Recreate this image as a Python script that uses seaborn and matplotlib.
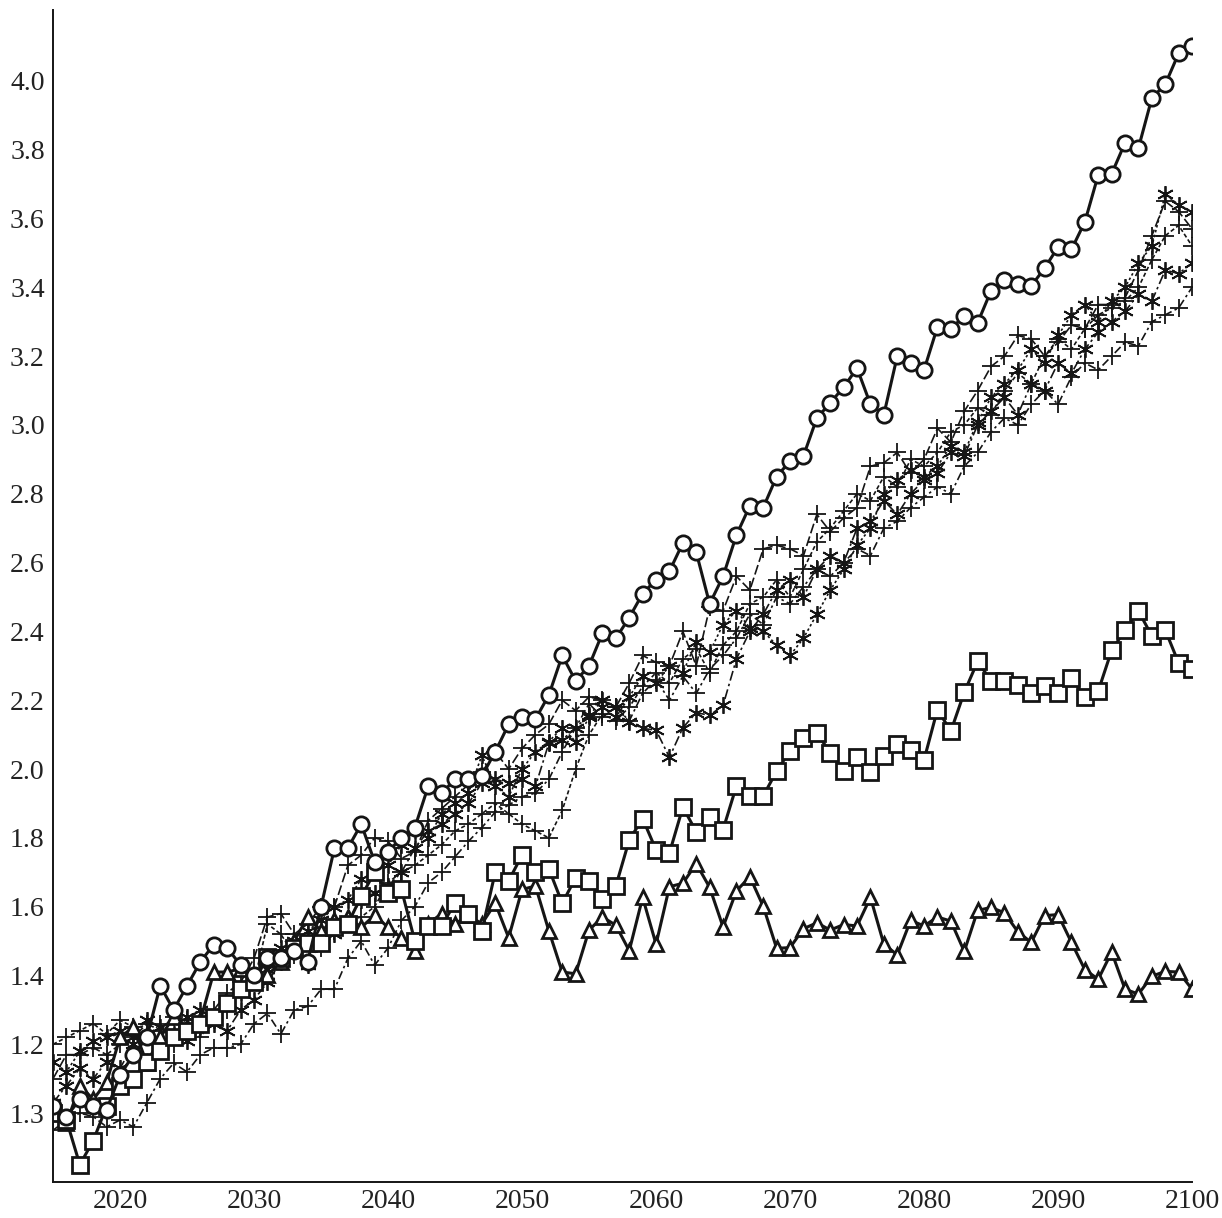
import numpy as np
import pandas as pd
import matplotlib
matplotlib.use("Agg")
import matplotlib.pyplot as plt
import seaborn as sns

years = list(range(2015, 2101))

circles = [1.02, 0.99, 1.04, 1.02, 1.01, 1.11, 1.17, 1.22, 1.37, 1.30,
           1.37, 1.44, 1.49, 1.48, 1.43, 1.40, 1.45, 1.45, 1.47, 1.44,
           1.60, 1.77, 1.77, 1.84, 1.73, 1.76, 1.80, 1.83, 1.95, 1.93,
           1.97, 1.97, 1.98, 2.05, 2.13, 2.15, 2.145, 2.215, 2.33, 2.256,
           2.30, 2.395, 2.38, 2.44, 2.51, 2.55, 2.575, 2.657, 2.63, 2.48,
           2.56, 2.68, 2.765, 2.76, 2.85, 2.895, 2.91, 3.02, 3.064, 3.11,
           3.165, 3.06, 3.03, 3.20, 3.18, 3.16, 3.285, 3.28, 3.316, 3.297,
           3.39, 3.42, 3.41, 3.404, 3.456, 3.517, 3.51, 3.59, 3.727, 3.73,
           3.82, 3.805, 3.95, 3.99, 4.08, 4.10]

squares = [1.00, 0.98, 0.85, 0.92, 1.02, 1.08, 1.10, 1.15, 1.18, 1.22,
           1.24, 1.26, 1.28, 1.32, 1.36, 1.38, 1.455, 1.45, 1.48, 1.494,
           1.494, 1.54, 1.55, 1.63, 1.70, 1.64, 1.65, 1.50, 1.545, 1.545,
           1.61, 1.58, 1.53, 1.70, 1.675, 1.75, 1.70, 1.71, 1.61, 1.684,
           1.675, 1.622, 1.66, 1.794, 1.856, 1.765, 1.756, 1.889, 1.818, 1.86,
           1.824, 1.951, 1.922, 1.922, 1.994, 2.053, 2.089, 2.104, 2.048, 1.994,
           2.034, 1.99, 2.037, 2.072, 2.056, 2.027, 2.173, 2.11, 2.223, 2.313,
           2.256, 2.256, 2.244, 2.221, 2.242, 2.221, 2.266, 2.208, 2.227, 2.345,
           2.404, 2.459, 2.387, 2.404, 2.308, 2.29]

triangles = [1.02, 0.97, 1.08, 1.04, 1.09, 1.22, 1.25, 1.145, 1.22, 1.28,
             1.25, 1.27, 1.41, 1.41, 1.42, 1.38, 1.40, 1.44, 1.50, 1.57,
             1.53, 1.56, 1.57, 1.54, 1.575, 1.54, 1.51, 1.47, 1.55, 1.58,
             1.55, 1.575, 1.55, 1.61, 1.51, 1.65, 1.66, 1.53, 1.41, 1.405,
             1.532, 1.57, 1.546, 1.472, 1.627, 1.491, 1.658, 1.668, 1.725, 1.656,
             1.541, 1.646, 1.687, 1.601, 1.479, 1.481, 1.536, 1.553, 1.532, 1.548,
             1.544, 1.627, 1.491, 1.46, 1.56, 1.544, 1.57, 1.558, 1.47, 1.589,
             1.598, 1.582, 1.527, 1.496, 1.574, 1.577, 1.496, 1.417, 1.389, 1.468,
             1.36, 1.346, 1.398, 1.412, 1.41, 1.36]

cross_a = [1.10, 1.17, 1.17, 1.19, 1.17, 1.20, 1.22, 1.26, 1.24, 1.28,
           1.27, 1.27, 1.30, 1.35, 1.38, 1.45, 1.57, 1.58, 1.52, 1.55,
           1.60, 1.60, 1.72, 1.75, 1.80, 1.79, 1.74, 1.76, 1.85, 1.885,
           1.92, 1.955, 1.99, 2.05, 2.00, 2.06, 2.10, 2.13, 2.20, 2.17,
           2.21, 2.20, 2.18, 2.25, 2.33, 2.31, 2.30, 2.40, 2.30, 2.47,
           2.46, 2.56, 2.52, 2.64, 2.65, 2.64, 2.62, 2.74, 2.69, 2.73,
           2.76, 2.88, 2.89, 2.92, 2.86, 2.90, 2.99, 2.95, 3.04, 3.10,
           3.17, 3.20, 3.26, 3.25, 3.20, 3.24, 3.29, 3.28, 3.35, 3.35,
           3.37, 3.45, 3.55, 3.65, 3.62, 3.57]

star_b = [1.03, 1.08, 1.13, 1.10, 1.15, 1.13, 1.20, 1.22, 1.19, 1.23,
          1.21, 1.25, 1.26, 1.24, 1.30, 1.33, 1.38, 1.44, 1.47, 1.43,
          1.50, 1.52, 1.56, 1.62, 1.64, 1.66, 1.70, 1.77, 1.82, 1.84,
          1.87, 1.90, 1.96, 1.97, 1.96, 1.97, 1.95, 2.075, 2.085, 2.12,
          2.156, 2.20, 2.18, 2.137, 2.118, 2.113, 2.034, 2.12, 2.164, 2.156,
          2.185, 2.32, 2.40, 2.45, 2.52, 2.55, 2.50, 2.58, 2.62, 2.60,
          2.70, 2.72, 2.78, 2.74, 2.80, 2.84, 2.86, 2.92, 2.91, 3.00,
          3.04, 3.08, 3.03, 3.12, 3.10, 3.18, 3.15, 3.22, 3.27, 3.30,
          3.33, 3.38, 3.36, 3.45, 3.44, 3.47]

star_c = [1.15, 1.12, 1.18, 1.21, 1.22, 1.24, 1.22, 1.27, 1.25, 1.22,
          1.28, 1.30, 1.27, 1.32, 1.35, 1.40, 1.42, 1.48, 1.50, 1.53,
          1.56, 1.60, 1.62, 1.68, 1.70, 1.72, 1.78, 1.82, 1.80, 1.87,
          1.90, 1.93, 2.04, 1.95, 1.92, 2.00, 2.05, 2.08, 2.12, 2.08,
          2.15, 2.18, 2.15, 2.21, 2.27, 2.25, 2.30, 2.28, 2.37, 2.34,
          2.42, 2.46, 2.41, 2.40, 2.36, 2.33, 2.38, 2.45, 2.52, 2.58,
          2.65, 2.70, 2.80, 2.84, 2.87, 2.85, 2.88, 2.94, 2.92, 3.01,
          3.08, 3.12, 3.16, 3.22, 3.18, 3.26, 3.32, 3.35, 3.30, 3.36,
          3.40, 3.47, 3.52, 3.67, 3.64, 3.62]

cross_d = [0.95, 0.98, 1.00, 0.99, 0.96, 0.98, 0.96, 1.03, 1.10, 1.145,
           1.12, 1.17, 1.19, 1.19, 1.20, 1.26, 1.29, 1.23, 1.30, 1.31,
           1.36, 1.36, 1.45, 1.50, 1.43, 1.48, 1.56, 1.60, 1.67, 1.70,
           1.745, 1.79, 1.83, 1.875, 1.895, 1.92, 1.93, 1.97, 2.05, 2.12,
           2.19, 2.15, 2.18, 2.14, 2.22, 2.26, 2.20, 2.27, 2.22, 2.29,
           2.33, 2.38, 2.45, 2.42, 2.50, 2.48, 2.53, 2.58, 2.56, 2.60,
           2.64, 2.62, 2.70, 2.72, 2.76, 2.79, 2.82, 2.80, 2.88, 2.92,
           2.98, 3.02, 3.00, 3.06, 3.10, 3.06, 3.14, 3.18, 3.16, 3.20,
           3.24, 3.23, 3.30, 3.32, 3.34, 3.40]

cross_e = [1.20, 1.22, 1.24, 1.26, 1.23, 1.27, 1.25, 1.22, 1.26, 1.20,
           1.25, 1.22, 1.28, 1.30, 1.36, 1.38, 1.55, 1.52, 1.46, 1.50,
           1.48, 1.53, 1.56, 1.57, 1.60, 1.67, 1.70, 1.72, 1.75, 1.78,
           1.82, 1.84, 1.87, 1.90, 1.87, 1.84, 1.82, 1.80, 1.88, 2.00,
           2.10, 2.16, 2.14, 2.18, 2.24, 2.28, 2.25, 2.32, 2.35, 2.28,
           2.36, 2.40, 2.48, 2.50, 2.55, 2.50, 2.58, 2.66, 2.70, 2.75,
           2.80, 2.78, 2.85, 2.82, 2.90, 2.88, 2.92, 2.98, 3.00, 3.05,
           3.03, 3.10, 3.15, 3.12, 3.20, 3.25, 3.22, 3.28, 3.32, 3.34,
           3.36, 3.40, 3.48, 3.55, 3.58, 3.52]

ytick_values = [1.0, 1.2, 1.4, 1.6, 1.8, 2.0, 2.2, 2.4, 2.6, 2.8, 3.0, 3.2, 3.4, 3.6, 3.8, 4.0]
ytick_labels = ["1.3", "1.2", "1.4", "1.6", "1.8", "2.0", "2.2", "2.4", "2.6", "2.8",
                "3.0", "3.2", "3.4", "3.6", "3.8", "4.0"]
xtick_values = [2020, 2030, 2040, 2050, 2060, 2070, 2080, 2090, 2100]

sns.set_style("white")
plt.rcParams["font.family"] = ["Liberation Serif", "DejaVu Serif"]

INK = "#151515"
ASTER = (6, 2, 0)

fig = plt.figure(figsize=(12.22, 12.18), dpi=100)
ax = fig.add_axes([0.0434, 0.0296, 0.9321, 0.9622])

thin_series = [
    (cross_a, "+", (0, (6, 2)), 13),
    (star_b, ASTER, (0, (6, 2, 1.5, 2)), 12),
    (star_c, ASTER, (0, (1.5, 1.5)), 12),
    (cross_d, "+", (0, (5, 2, 1.5, 2)), 13),
    (cross_e, "+", (0, (2.5, 1.5)), 13),
]
for vals, mk, ls, ms in thin_series:
    df = pd.DataFrame({"year": years, "value": vals})
    sns.lineplot(data=df, x="year", y="value", ax=ax, color=INK, linewidth=1.2,
                 linestyle=ls, marker=mk, markersize=ms, markeredgewidth=1.3,
                 markeredgecolor=INK, markerfacecolor=INK, sort=False)

thick_series = [
    (triangles, "^", 9.5),
    (squares, "s", 12),
    (circles, "o", 11),
]
for vals, mk, ms in thick_series:
    df = pd.DataFrame({"year": years, "value": vals})
    sns.lineplot(data=df, x="year", y="value", ax=ax, color=INK, linewidth=2.2,
                 linestyle="-", marker=mk, markersize=ms, markeredgewidth=2.0,
                 markeredgecolor=INK, markerfacecolor="white", sort=False)

ax.set_xlim(2015, 2100)
ax.set_ylim(0.8, 4.206)
ax.set_xticks(xtick_values)
ax.set_xticklabels([str(v) for v in xtick_values])
ax.set_yticks(ytick_values)
ax.set_yticklabels(ytick_labels)
ax.set_xlabel("")
ax.set_ylabel("")
for side in ["top", "right"]:
    ax.spines[side].set_visible(False)
for side in ["left", "bottom"]:
    ax.spines[side].set_color(INK)
    ax.spines[side].set_linewidth(1.4)
ax.tick_params(axis="both", direction="in", length=8, width=1.2, colors=INK,
               labelsize=20, labelcolor="#222222")
ax.tick_params(axis="x", pad=5)
ax.tick_params(axis="y", pad=6)

fig.savefig("out.png", dpi=100)
